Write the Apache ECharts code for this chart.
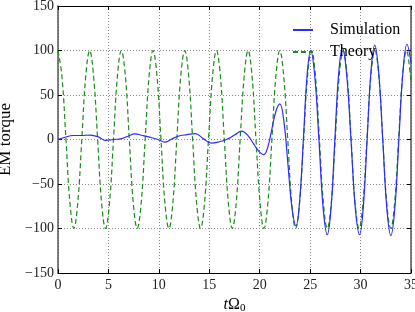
<!DOCTYPE html>
<html>
<head>
<meta charset="utf-8">
<script src="https://cdn.jsdelivr.net/npm/echarts@6/dist/echarts.min.js"></script>
<style>html,body{margin:0;padding:0;background:#fff}#c{width:415px;height:312px}</style>
</head>
<body>
<div id="c"></div>
<script>
// Theory curve
var theoryT = [0,0.39,0.79,1.18,1.57,1.96,2.36,2.75,3.14,3.53,3.93,4.32,4.71,5.11,5.50,5.89,6.28,6.68,7.07,7.46,7.85,8.25,8.64,9.03,9.42,9.82,10.21,10.60,11.00,11.39,11.78,12.17,12.57,12.96,13.35,13.74,14.14,14.53,14.92,15.32,15.71,16.10,16.49,16.89,17.28,17.67,18.06,18.46,18.85,19.24,19.63,20.03,20.42,20.81,21.21,21.60,21.99,22.38,22.78,23.17,23.56,23.95,24.35,24.74,25.13,25.53,25.92,26.31,26.70,27.10,27.49,27.88,28.27,28.67,29.06,29.45,29.85,30.24,30.63,31.02,31.42,31.81,32.20,32.59,32.99,33.38,33.77,34.16,34.56,34.95,35.0];
var theoryV = [100,71,0,-71,-100,-71,0,71,100,71,0,-71,-100,-71,0,71,100,71,0,-71,-100,-71,0,71,100,71,0,-71,-100,-71,0,71,100,71,0,-71,-100,-71,0,71,100,71,0,-71,-100,-71,0,71,100,71,0,-71,-100,-71,0,71,100,71,0,-71,-100,-71,0,71,100,71,0,-71,-100,-71,0,71,100,71,0,-71,-100,-71,0,71,100,71,0,-71,-100,-71,0,71,100,72,66];
// Simulation curve
var simT = [0,0.7,1.5,2.3,3.2,4.0,4.7,5.5,6.3,7.0,7.6,8.4,9.1,9.9,10.6,11.2,11.9,12.8,13.6,14.4,15.2,16.0,16.7,17.5,18.2,18.8,19.4,19.9,20.4,20.8,21.2,21.6,22.0,22.4,22.8,23.2,23.6,23.96,24.33,24.69,25.05,25.46,25.87,26.28,26.7,27.08,27.45,27.82,28.2,28.62,29.05,29.47,29.9,30.27,30.65,31.02,31.4,31.8,32.2,32.6,33.0,33.4,33.8,34.2,34.6,35.0];
var simV = [0,2.5,4.5,4.5,5,3,-1,0,1,4,6.4,4.5,2.6,0,-3,0,3.7,5.5,6.7,1,-4,-2.5,0,5,9.5,5,-5,-13,-17,-8.5,11.5,31.5,40,20,-28,-77,-97,-69,0,71,100,71,0,-76,-107,-76,0,73,103,73,0,-76,-107,-76,0,75,106,75,0,-77,-108,-77,0,76,107,86];
var xTicks = [0,5,10,15,20,25,30,35];
var yTicks = [-150,-100,-50,0,50,100,150];
var seriesNames = ['Simulation','Theory'];

function zip(a,b){var r=[];for(var i=0;i<a.length;i++)r.push([a[i],b[i]]);return r;}
var serif = '"Liberation Serif","DejaVu Serif",serif';
var minus = function(v){return String(v).replace('-','\u2212');};
var gridLine = {show:true,lineStyle:{color:'#888',type:[1,2],width:1}};
var chart = echarts.init(document.getElementById('c'),null,{renderer:'canvas'});
chart.setOption({
  animation:false,
  grid:{left:58,right:4,top:6,bottom:39,containLabel:false,outerBoundsMode:'none'},
  legend:{
    orient:'vertical',left:287,top:17,itemWidth:20,itemHeight:14,itemGap:6,
    itemStyle:{opacity:0},
    data:seriesNames,
    textStyle:{fontFamily:serif,fontSize:16,color:'#000',padding:[0,0,0,12]}
  },
  xAxis:[{
    type:'value',min:0,max:35,interval:5,
    axisLine:{show:true,onZero:false,lineStyle:{color:'#000',width:1}},
    axisTick:{show:true,inside:true,length:4,lineStyle:{color:'#000'}},
    axisLabel:{fontFamily:serif,fontSize:14,color:'#222',margin:5,formatter:minus},
    splitLine:gridLine,
    name:'{i|t}{n|\u03a9}{s|0}',nameLocation:'middle',nameGap:20,
    nameTextStyle:{rich:{i:{fontFamily:serif,fontStyle:'italic',fontSize:16,color:'#000'},n:{fontFamily:serif,fontSize:16,color:'#000'},s:{fontFamily:serif,fontSize:11,color:'#000',verticalAlign:'bottom',padding:[7,0,0,0]}}}
  },{
    type:'value',position:'top',min:0,max:35,interval:5,
    axisLine:{show:true,onZero:false,lineStyle:{color:'#000',width:1}},
    axisTick:{show:true,inside:true,length:4,lineStyle:{color:'#000'}},
    axisLabel:{show:false},splitLine:{show:false}
  }],
  yAxis:[{
    type:'value',min:-150,max:150,interval:50,
    axisLine:{show:true,onZero:false,lineStyle:{color:'#555',width:1.5}},
    axisTick:{show:true,inside:true,length:4,lineStyle:{color:'#000'}},
    axisLabel:{fontFamily:serif,fontSize:14,color:'#222',margin:4,formatter:minus},
    splitLine:gridLine,
    name:'EM torque',nameLocation:'middle',nameGap:38,
    nameTextStyle:{fontFamily:serif,fontSize:17,color:'#000'}
  },{
    type:'value',position:'right',min:-150,max:150,interval:50,
    axisLine:{show:true,onZero:false,lineStyle:{color:'#555',width:1.5}},
    axisTick:{show:true,inside:true,length:4,lineStyle:{color:'#000'}},
    axisLabel:{show:false},splitLine:{show:false}
  }],
  series:[{
    name:seriesNames[0],type:'line',data:zip(simT,simV),smooth:0.4,symbol:'none',
    lineStyle:{color:'#2b2bff',width:1.2},itemStyle:{color:'#2b2bff'},z:3
  },{
    name:seriesNames[1],type:'line',data:zip(theoryT,theoryV),smooth:0.4,symbol:'none',
    lineStyle:{color:'#1a8a1a',width:1.2,type:[5,3]},itemStyle:{color:'#1a8a1a'},z:2
  }]
});
</script>
</body>
</html>
